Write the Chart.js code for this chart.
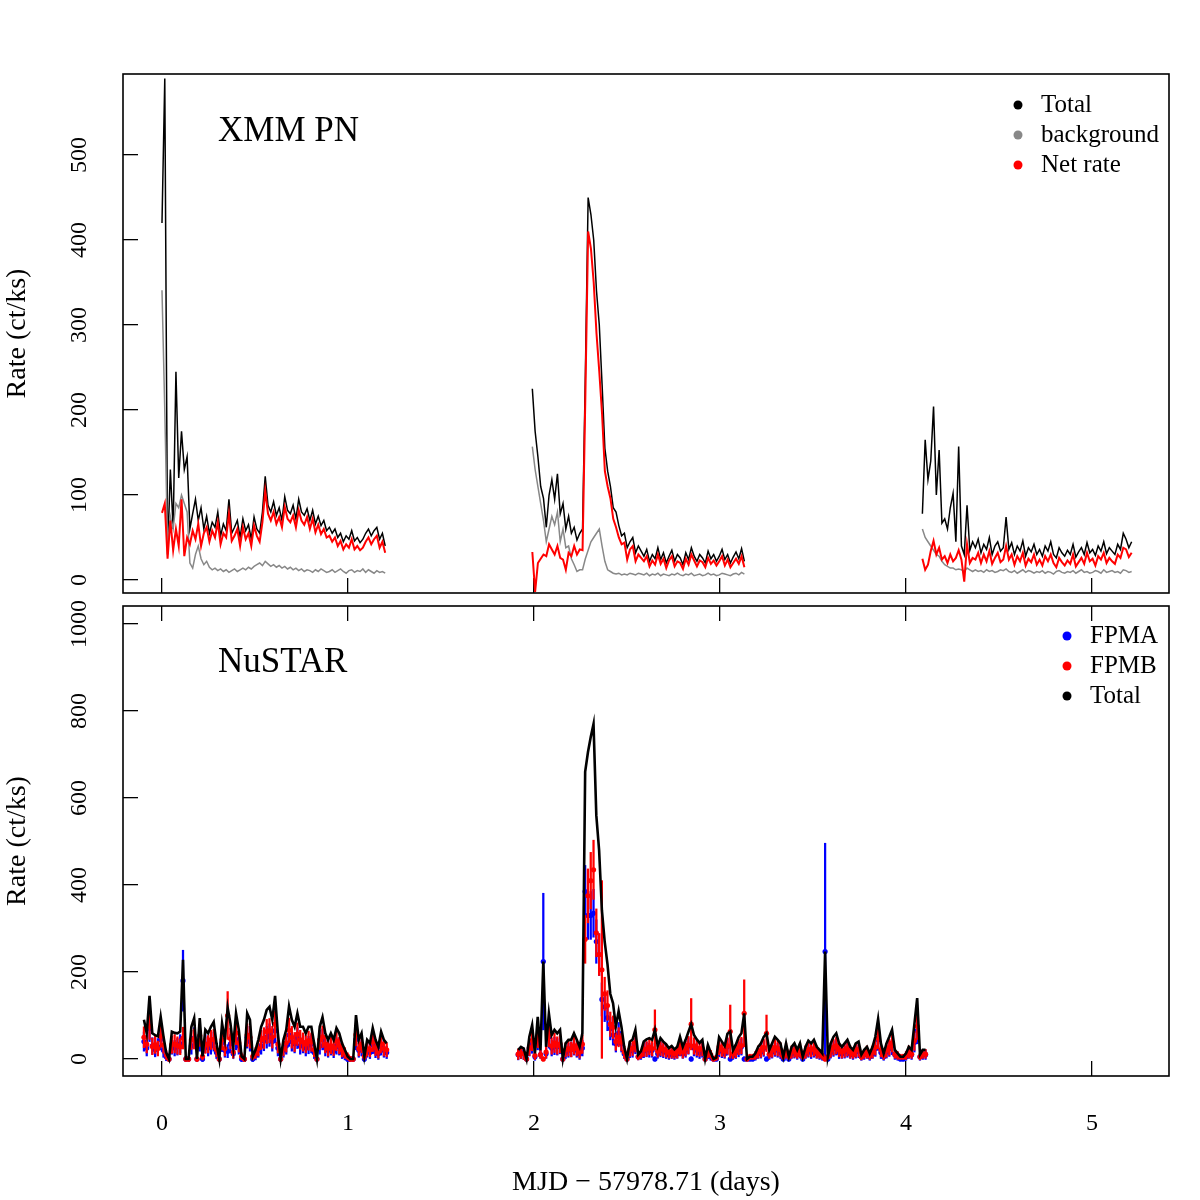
<!DOCTYPE html>
<html>
<head>
<meta charset="utf-8">
<script src="https://cdn.jsdelivr.net/npm/chart.js@4.4.1/dist/chart.umd.min.js"></script>
<style>
  body { margin: 0; background: #fff; }
  #wrap { position: relative; width: 1200px; height: 1200px; overflow: hidden; }
  canvas { position: absolute; left: 0; }
</style>
</head>
<body>
<div id="wrap">
  <canvas id="xmmChart" width="1200" height="650" style="top:0"></canvas>
  <canvas id="nuChart" width="1200" height="650" style="top:550px"></canvas>
</div>
<script>
// light curve bins (days since MJD 57978.71)
var xmmStart = [0, 1.991, 4.088];
var xmmBin = 0.015;
var nuStart = [-0.097, 1.915];
var nuBin = 0.015;

var xmmKeys = ['Total', 'background', 'Net rate'];
var nuKeys = ['FPMA', 'FPMB', 'Total'];

// XMM PN, segment 1
var xmmTotal1 = [420,590,30,130,60,245,120,175,130,145,
  60,78,95,70,85,60,75,55,68,62,
  80,52,66,58,95,55,62,70,50,72,
  58,65,48,74,60,55,80,122,88,80,
  92,76,85,70,98,82,78,88,72,95,
  80,76,84,70,82,66,75,64,70,58,
  62,55,60,50,55,45,52,48,58,46,
  50,44,48,55,60,52,58,62,48,55,
  40];
var xmmBack1 = [341,200,40,75,60,90,85,100,90,80,
  20,14,30,40,25,18,22,15,12,14,
  11,13,10,12,9,11,13,10,12,14,
  12,15,13,16,18,20,17,22,19,16,
  18,15,17,14,16,13,15,12,14,11,
  13,10,12,11,9,12,10,13,11,9,
  10,12,9,11,13,10,8,11,12,9,
  11,10,13,9,12,10,8,11,9,10,
  8];
var xmmNet1 = [79,90,25,70,35,60,40,95,28,50,
  42,58,48,66,40,55,62,45,58,50,
  68,42,55,50,78,46,52,60,40,62,
  48,55,40,64,52,45,68,105,78,70,
  80,66,74,62,86,72,68,76,62,82,
  70,65,74,60,72,56,65,54,60,50,
  52,45,50,40,46,36,42,38,48,36,
  40,35,38,45,50,42,48,52,38,45,
  32];

// XMM PN, segment 2
var xmmTotal2 = [225,175,145,110,96,62,100,118,95,125,
  78,90,60,75,55,62,47,55,60,240,
  450,430,400,340,300,230,155,128,110,85,
  80,64,52,55,38,45,50,32,40,34,
  28,36,22,30,25,38,24,32,20,28,
  35,22,30,26,18,32,24,38,28,22,
  30,26,20,34,25,30,22,28,36,24,
  30,20,27,33,25,37,22];
var xmmBack2 = [157,130,110,90,70,45,60,75,65,80,
  45,60,38,40,25,18,10,12,12,25,
  35,45,50,55,60,40,22,12,10,8,
  7,8,6,7,6,8,7,6,8,7,
  6,8,5,7,6,8,5,7,6,5,
  7,6,8,6,5,7,6,8,5,6,
  7,5,6,8,6,7,5,6,8,7,
  6,5,7,8,6,9,7];
var xmmNet2 = [33,-14,20,25,30,28,42,36,30,40,
  26,24,12,32,28,40,30,36,35,215,
  410,390,350,290,245,195,128,110,96,72,
  62,50,42,44,24,36,40,22,30,26,
  22,28,16,23,18,30,19,25,14,23,
  28,16,22,20,13,25,18,30,23,16,
  23,21,15,26,19,23,17,22,28,17,
  24,15,20,25,19,28,15];

// XMM PN, segment 3
var xmmTotal3 = [78,165,118,140,204,100,153,67,72,60,
  85,102,45,157,40,30,88,35,45,38,
  48,32,42,36,50,30,40,45,34,38,
  74,36,44,30,40,34,46,28,38,33,
  42,30,36,28,40,34,45,30,26,38,
  32,28,35,30,42,27,33,38,30,44,
  32,36,29,40,34,45,31,38,34,30,
  42,36,55,48,38,45];
var xmmBack3 = [60,50,45,40,35,30,28,22,18,16,
  14,14,12,13,12,10,14,12,10,12,
  10,11,9,12,10,11,9,10,12,11,
  13,10,9,11,8,10,12,9,11,10,
  8,10,9,11,8,10,9,7,10,11,
  9,8,10,9,11,8,10,12,9,10,
  8,9,11,10,8,12,9,10,11,9,
  10,8,12,11,9,10];
var xmmNet3 = [25,12,18,34,46,30,38,24,28,20,
  30,22,26,35,24,-2,42,20,26,24,
  32,20,30,22,34,19,26,32,21,24,
  40,24,30,18,28,22,32,17,25,21,
  30,18,24,17,28,22,30,20,15,26,
  21,17,23,19,30,16,21,26,19,32,
  22,25,17,28,24,32,20,26,22,19,
  30,26,38,36,27,32];

// NuSTAR, segment 1
var nuTotal1 = [90,59,145,59,55,52,97,52,14,0,
  63,60,59,63,228,0,0,74,94,0,
  94,6,67,59,74,85,36,0,82,44,
  118,82,28,105,67,6,0,105,90,6,
  21,44,74,90,113,120,90,145,59,0,
  44,67,121,90,74,105,74,74,59,74,
  74,36,0,74,96,59,44,59,44,71,
  59,36,21,6,0,0,101,44,59,6,
  44,36,71,44,28,63,44,36];
var nuFpma1 = [40,25,70,30,22,28,45,20,5,0,
  30,25,28,35,180,0,0,30,48,0,
  40,0,35,25,30,40,15,0,38,20,
  18,35,12,45,30,0,0,50,40,0,
  8,20,30,42,50,55,40,65,25,0,
  20,30,55,40,35,48,30,35,25,32,
  35,15,0,30,45,25,20,28,18,30,
  28,15,8,0,0,0,45,20,25,0,
  20,15,32,18,12,28,20,15];
var nuFpmb1 = [50,34,75,29,33,24,52,32,9,0,
  33,35,31,28,48,0,0,44,46,0,
  54,6,32,34,44,45,21,0,44,24,
  100,47,16,60,37,6,0,55,50,6,
  13,24,44,48,63,65,50,80,34,0,
  24,37,66,50,39,57,44,39,34,42,
  39,21,0,44,51,34,24,31,26,41,
  31,21,13,6,0,0,56,24,34,6,
  24,21,39,26,16,35,24,21];
var nuErrA1 = [22,18,30,19,17,19,24,16,9,6,
  19,18,19,21,70,6,6,19,24,6,
  22,6,21,18,19,22,14,6,21,16,
  15,21,12,24,19,6,6,25,22,6,
  10,16,19,23,25,26,22,28,18,6,
  16,19,26,22,21,24,19,21,18,20,
  21,14,6,19,24,18,16,19,15,19,
  19,14,10,6,6,6,24,16,18,6,
  16,14,20,15,13,19,16,14];
var nuErrB1 = [24,20,30,19,20,17,25,19,10,6,
  20,21,20,18,25,6,6,22,23,6,
  25,8,19,20,22,23,16,6,23,17,
  55,24,14,27,21,8,6,26,25,8,
  13,17,22,24,28,28,25,31,20,6,
  17,21,28,25,22,26,22,21,20,22,
  21,16,6,22,25,20,17,19,18,22,
  19,16,13,8,6,6,26,17,20,8,
  17,16,22,18,14,20,17,16];

// NuSTAR, segment 2
var nuTotal2 = [21,28,24,0,51,78,13,97,20,224,
  28,105,55,67,59,67,0,36,44,44,
  59,44,28,59,660,705,740,770,560,480,
  342,270,218,150,128,75,110,74,28,0,
  40,45,67,10,18,40,45,48,44,67,
  30,48,40,34,25,30,22,28,51,28,
  44,62,80,55,45,37,44,0,32,15,
  0,3,50,40,30,58,63,20,33,50,
  59,105,0,5,5,13,28,36,51,59,
  21,36,51,44,36,5,36,5,28,36,
  21,36,5,28,42,36,44,28,21,13,
  247,5,36,51,59,36,28,36,44,28,
  21,36,40,10,21,28,13,28,51,92,
  36,13,36,51,67,21,13,5,5,13,
  28,21,80,140,10,21,21];
var nuFpma2 = [10,15,12,0,25,35,5,45,10,224,
  12,50,25,30,28,32,0,15,20,22,
  28,20,12,25,385,330,330,335,270,240,
  137,120,95,70,55,35,60,35,12,0,
  18,20,30,5,8,18,22,20,20,0,
  12,22,18,15,10,14,10,12,25,12,
  20,30,0,25,20,15,20,0,15,5,
  0,0,22,18,12,28,0,8,15,22,
  28,0,0,0,0,5,12,16,24,0,
  10,16,24,20,15,0,16,0,12,16,
  10,16,0,12,20,15,20,12,10,5,
  247,0,16,24,28,15,12,16,20,12,
  10,16,18,5,10,12,5,12,24,44,
  15,5,16,24,30,10,5,0,0,5,
  12,10,38,65,5,10,10];
var nuFpmb2 = [11,13,12,0,26,43,8,52,10,0,
  16,55,30,37,31,35,0,21,24,22,
  31,24,16,34,275,375,410,435,290,240,
  205,150,123,80,73,40,50,39,16,0,
  22,25,37,5,10,22,23,28,24,67,
  18,26,22,19,15,16,12,16,26,16,
  24,32,80,30,25,22,24,0,17,10,
  0,3,28,22,18,30,63,12,18,28,
  31,105,0,5,5,8,16,20,27,59,
  11,20,27,24,21,5,20,5,16,20,
  11,20,5,16,22,21,24,16,11,8,
  0,5,20,27,31,21,16,20,24,16,
  11,20,22,5,11,16,8,16,27,48,
  21,8,20,27,37,11,8,5,5,8,
  16,11,42,75,5,11,11];
var nuErrA2 = [12,14,13,5,18,22,8,24,10,157,
  12,25,18,20,19,20,5,14,16,17,
  19,16,13,18,60,55,55,55,50,48,
  38,34,30,26,23,19,24,19,11,5,
  15,16,18,7,9,15,17,16,16,5,
  12,17,15,14,11,13,11,12,18,12,
  16,19,5,18,16,14,16,5,14,8,
  5,5,17,15,12,19,5,9,14,17,
  19,5,5,5,5,8,12,14,18,5,
  11,14,18,16,14,5,14,5,12,14,
  11,14,5,12,16,14,16,12,11,8,
  249,5,14,18,19,14,12,14,16,12,
  11,14,15,8,11,12,8,12,18,24,
  14,8,14,18,20,11,8,5,5,8,
  12,11,22,30,8,11,11];
var nuErrB2 = [12,13,13,5,18,24,9,26,10,5,
  14,27,19,22,20,21,5,16,17,17,
  20,17,14,21,55,62,65,68,55,48,
  205,38,34,28,26,20,22,20,14,5,
  16,17,21,7,10,16,17,18,17,46,
  14,18,16,15,13,14,12,14,18,14,
  17,20,59,19,17,16,17,5,14,10,
  5,6,18,16,14,19,61,11,15,18,
  19,77,5,6,6,9,14,16,18,42,
  11,16,18,17,16,6,16,6,14,16,
  11,16,6,14,16,16,17,14,11,9,
  5,6,16,18,19,16,14,16,17,14,
  11,16,16,7,11,14,9,14,18,24,
  16,9,16,18,21,11,9,6,6,9,
  14,11,22,30,7,11,11];

var FONT = '"Liberation Serif", "Times New Roman", serif';
Chart.defaults.font.family = FONT;
Chart.defaults.color = '#000';

// turn per-segment arrays into {x,y} points, null between segments
function segPoints(starts, bin, segs) {
  var pts = [];
  segs.forEach(function(vals, s) {
    if (s > 0) pts.push({x: starts[s] - bin, y: null});
    vals.forEach(function(v, i) {
      pts.push({x: starts[s] + i * bin, y: v});
    });
  });
  return pts;
}

function errPoints(starts, bin, segs, errs) {
  var pts = [];
  segs.forEach(function(vals, s) {
    vals.forEach(function(v, i) {
      pts.push({x: starts[s] + i * bin, y: [v - errs[s][i], v + errs[s][i]]});
    });
  });
  return pts;
}

// box, panel name and key, drawn R style
var panelDeco = {
  id: 'panelDeco',
  afterDraw: function(chart, args, o) {
    var ctx = chart.ctx, a = chart.chartArea;
    ctx.save();
    ctx.strokeStyle = '#000';
    ctx.lineWidth = 1.6;
    ctx.strokeRect(a.left, a.top, a.right - a.left, a.bottom - a.top);
    ctx.fillStyle = '#000';
    ctx.textBaseline = 'middle';
    ctx.font = '35px ' + FONT;
    ctx.fillText(o.label, a.left + 95, a.top + o.labelDy);
    ctx.font = '25px ' + FONT;
    o.keys.forEach(function(k, i) {
      var y = a.top + o.keyDy + i * 30;
      ctx.fillStyle = o.colors[i];
      ctx.beginPath();
      ctx.arc(o.dotX, y, 4.5, 0, Math.PI * 2);
      ctx.fill();
      ctx.fillStyle = '#000';
      ctx.fillText(k, o.dotX + 23, y);
    });
    ctx.restore();
  }
};

function tickGrid() {
  return {drawOnChartArea: false, drawTicks: true, tickLength: -15, color: '#000', lineWidth: 1.3};
}

// top panel: canvas 0..650, plot box 74..593
var xmmPlot = new Chart(document.getElementById('xmmChart'), {
  type: 'line',
  data: {
    datasets: [{
      label: 'Net rate',
      data: segPoints(xmmStart, xmmBin, [xmmNet1, xmmNet2, xmmNet3]),
      borderColor: '#ff0000',
      borderWidth: 2,
      pointRadius: 0,
      order: 0
    }, {
      label: 'background',
      data: segPoints(xmmStart, xmmBin, [xmmBack1, xmmBack2, xmmBack3]),
      borderColor: '#888888',
      borderWidth: 1.5,
      pointRadius: 0,
      order: 1
    }, {
      label: 'Total',
      data: segPoints(xmmStart, xmmBin, [xmmTotal1, xmmTotal2, xmmTotal3]),
      borderColor: '#000000',
      borderWidth: 1.5,
      pointRadius: 0,
      order: 2
    }]
  },
  options: {
    responsive: false,
    animation: false,
    spanGaps: false,
    layout: {padding: {top: 74, right: 31, left: 0, bottom: 0}},
    scales: {
      x: {
        type: 'linear', min: -0.2096, max: 5.4138, offset: false,
        border: {display: false},
        grid: tickGrid(),
        ticks: {display: false, stepSize: 1, includeBounds: false},
        afterFit: function(s) { s.height = 57; }
      },
      y: {
        min: -15.29, max: 595.3,
        border: {display: false},
        grid: tickGrid(),
        ticks: {stepSize: 100, includeBounds: false, minRotation: 90, maxRotation: 90,
          crossAlign: 'center', padding: 40, color: '#000', font: {size: 24},
          callback: function(v) { return String(v); }},
        title: {display: true, text: 'Rate (ct/ks)', color: '#000', font: {size: 28}, padding: {top: 1, bottom: 0}},
        afterFit: function(s) { s.width = 123; }
      }
    },
    plugins: {
      legend: {display: false},
      tooltip: {enabled: false},
      panelDeco: {label: 'XMM PN', labelDy: 58, keys: xmmKeys,
        colors: ['#000000', '#888888', '#ff0000'], dotX: 1018, keyDy: 31}
    }
  },
  plugins: [panelDeco]
});

// bottom panel: canvas 550..1200, plot box 606..1076
var nuPlot = new Chart(document.getElementById('nuChart'), {
  type: 'line',
  data: {
    datasets: [{
      label: 'Total',
      data: segPoints(nuStart, nuBin, [nuTotal1, nuTotal2]),
      borderColor: '#000000',
      borderWidth: 2.6,
      pointRadius: 0,
      order: 0
    }, {
      label: 'FPMB',
      data: segPoints(nuStart, nuBin, [nuFpmb1, nuFpmb2]),
      showLine: false,
      pointRadius: 2.6,
      pointBorderWidth: 0,
      pointBackgroundColor: '#ff0000',
      order: 1
    }, {
      type: 'bar',
      label: 'FPMB err',
      data: errPoints(nuStart, nuBin, [nuFpmb1, nuFpmb2], [nuErrB1, nuErrB2]),
      backgroundColor: '#ff0000',
      borderWidth: 0,
      barThickness: 1.6,
      grouped: false,
      order: 2
    }, {
      label: 'FPMA',
      data: segPoints(nuStart, nuBin, [nuFpma1, nuFpma2]),
      showLine: false,
      pointRadius: 2.6,
      pointBorderWidth: 0,
      pointBackgroundColor: '#0000ff',
      order: 3
    }, {
      type: 'bar',
      label: 'FPMA err',
      data: errPoints(nuStart, nuBin, [nuFpma1, nuFpma2], [nuErrA1, nuErrA2]),
      backgroundColor: '#0000ff',
      borderWidth: 0,
      barThickness: 1.6,
      grouped: false,
      order: 4
    }]
  },
  options: {
    responsive: false,
    animation: false,
    spanGaps: false,
    layout: {padding: {top: 0, right: 31, left: 0, bottom: 0}},
    scales: {
      x: {
        type: 'linear', position: 'bottom', min: -0.2096, max: 5.4138, offset: false,
        border: {display: false},
        grid: Object.assign(tickGrid(), {offset: false}),
        ticks: {stepSize: 1, includeBounds: false, padding: 48, color: '#000', font: {size: 24},
          maxRotation: 0, callback: function(v) { return String(v); }},
        title: {display: true, text: 'MJD \u2212 57978.71 (days)', color: '#000', font: {size: 28}, padding: {top: 0, bottom: 1}},
        afterFit: function(s) { s.height = 124; }
      },
      x2: {
        type: 'linear', position: 'top', min: -0.2096, max: 5.4138, offset: false,
        border: {display: false},
        grid: tickGrid(),
        ticks: {display: false, stepSize: 1, includeBounds: false},
        afterFit: function(s) { s.height = 56; }
      },
      y: {
        min: -39.1, max: 1041.4,
        border: {display: false},
        grid: tickGrid(),
        ticks: {stepSize: 200, includeBounds: false, minRotation: 90, maxRotation: 90,
          crossAlign: 'center', padding: 34, color: '#000', font: {size: 24},
          callback: function(v) { return String(v); }},
        title: {display: true, text: 'Rate (ct/ks)', color: '#000', font: {size: 28}, padding: {top: 1, bottom: 0}},
        afterFit: function(s) { s.width = 123; }
      }
    },
    plugins: {
      legend: {display: false},
      tooltip: {enabled: false},
      panelDeco: {label: 'NuSTAR', labelDy: 57, keys: nuKeys,
        colors: ['#0000ff', '#ff0000', '#000000'], dotX: 1067, keyDy: 30}
    }
  },
  plugins: [panelDeco]
});
</script>
</body>
</html>
